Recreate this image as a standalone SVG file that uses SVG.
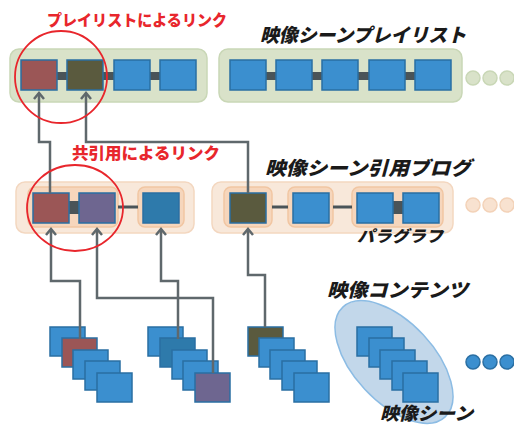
<svg xmlns="http://www.w3.org/2000/svg" width="514" height="426" viewBox="0 0 514 426">
<defs>
<style>
.sq{fill:#3b8fcf;stroke:#2a6fa3;stroke-width:1.5}
.red{fill:#9b5656}
.olive{fill:#5a5a3e}
.purple{fill:#6e6690}
.dblue{fill:#2e7aab}
.bar{fill:#4a5458}
.thin{stroke:#4a5458;stroke-width:3;fill:none}
.grp-g{fill:#d9e2c9;stroke:#c9d7b6;stroke-width:1.5}
.grp-p{fill:#f8e8da;stroke:#f3d7c0;stroke-width:1.5}
.inner{fill:#f6d6bc;stroke:#f1c6a2;stroke-width:1.5}
.conn{fill:none;stroke:#5f686c;stroke-width:2.5}
.ring{fill:none;stroke:#e8262c;stroke-width:1.8}
.title{font-family:"Noto Sans CJK JP",sans-serif;font-weight:900;font-style:italic;fill:#1a1a1a}
.rtxt{font-family:"Noto Sans CJK JP",sans-serif;font-weight:900;fill:#e8262c}
</style>
<marker id="ah" markerUnits="userSpaceOnUse" markerWidth="14" markerHeight="14" refX="0" refY="0" viewBox="-8 -7 10 14" orient="auto">
<path d="M-6,-5 L0,0 L-6,5" fill="none" stroke="#5f686c" stroke-width="2.5"/>
</marker>
</defs>

<g id="playlist-1">
<rect class="grp-g" x="10" y="49" width="197" height="53" rx="9"/>
<rect class="bar" x="56" y="72" width="12" height="8"/>
<rect class="bar" x="102" y="72" width="13" height="8"/>
<rect class="bar" x="148" y="72" width="13" height="8"/>
<rect class="sq red" x="21" y="60" width="36" height="30"/>
<rect class="sq olive" x="67" y="60" width="36" height="30"/>
<rect class="sq" x="114" y="60" width="36" height="30"/>
<rect class="sq" x="160" y="60" width="36" height="30"/>
</g>

<g id="playlist-2">
<rect class="grp-g" x="219" y="49" width="243" height="53" rx="9"/>
<rect class="bar" x="265" y="72" width="12" height="8"/>
<rect class="bar" x="311" y="72" width="12" height="8"/>
<rect class="bar" x="357" y="72" width="13" height="8"/>
<rect class="bar" x="403" y="72" width="13" height="8"/>
<rect class="sq" x="230" y="60" width="36" height="30"/>
<rect class="sq" x="276" y="60" width="36" height="30"/>
<rect class="sq" x="322" y="60" width="36" height="30"/>
<rect class="sq" x="369" y="60" width="36" height="30"/>
<rect class="sq" x="415" y="60" width="36" height="30"/>
</g>

<g id="playlist-more" fill="#d9e2c9" stroke="#c9d7b6" stroke-width="1.5">
<circle cx="473" cy="78" r="7"/>
<circle cx="490" cy="78" r="7"/>
<circle cx="507" cy="78" r="7"/>
</g>

<g id="blog-1">
<rect class="grp-p" x="16" y="182" width="178" height="51" rx="9"/>
<rect class="inner" x="28" y="187" width="90" height="40" rx="7"/>
<rect class="inner" x="138" y="187" width="46" height="40" rx="7"/>
<line class="thin" x1="118" y1="207" x2="138" y2="207"/>
<rect class="bar" x="68" y="201" width="12" height="13"/>
<rect class="sq red" x="33" y="193" width="36" height="30"/>
<rect class="sq purple" x="79" y="193" width="36" height="30"/>
<rect class="sq dblue" x="143" y="193" width="36" height="30"/>
</g>

<g id="blog-2">
<rect class="grp-p" x="212" y="182" width="241" height="51" rx="9"/>
<rect class="inner" x="224" y="187" width="48" height="40" rx="7"/>
<rect class="inner" x="288" y="187" width="45" height="40" rx="7"/>
<rect class="inner" x="352" y="187" width="91" height="40" rx="7"/>
<line class="thin" x1="272" y1="207" x2="288" y2="207"/>
<line class="thin" x1="333" y1="207" x2="352" y2="207"/>
<rect class="bar" x="392" y="201" width="12" height="13"/>
<rect class="sq olive" x="230" y="193" width="36" height="30"/>
<rect class="sq" x="293" y="193" width="36" height="30"/>
<rect class="sq" x="357" y="193" width="36" height="30"/>
<rect class="sq" x="403" y="193" width="36" height="30"/>
</g>

<g id="blog-more" fill="#f8e2d0" stroke="#f3d2b8" stroke-width="1.5">
<circle cx="473" cy="205" r="7"/>
<circle cx="490" cy="205" r="7"/>
<circle cx="507" cy="205" r="7"/>
</g>

<g id="video-1">
<rect class="sq" x="50" y="327" width="35" height="29"/>
<rect class="sq red" x="62" y="338" width="35" height="29"/>
<rect class="sq" x="73" y="350" width="35" height="29"/>
<rect class="sq" x="85" y="361" width="35" height="29"/>
<rect class="sq" x="97" y="373" width="35" height="29"/>
</g>

<g id="video-2">
<rect class="sq" x="148" y="327" width="35" height="29"/>
<rect class="sq dblue" x="160" y="338" width="35" height="29"/>
<rect class="sq" x="172" y="350" width="35" height="29"/>
<rect class="sq" x="183" y="361" width="35" height="29"/>
<rect class="sq purple" x="195" y="373" width="35" height="29"/>
</g>

<g id="video-3">
<rect class="sq olive" x="248" y="327" width="35" height="29"/>
<rect class="sq" x="259" y="338" width="35" height="29"/>
<rect class="sq" x="270" y="350" width="35" height="29"/>
<rect class="sq" x="282" y="361" width="35" height="29"/>
<rect class="sq" x="294" y="373" width="35" height="29"/>
</g>

<g id="video-4">
<ellipse cx="394" cy="362" rx="75" ry="40" transform="rotate(47 394 362)" fill="#c2d7ea" stroke="#8cbce4" stroke-width="1.5"/>
<rect class="sq" x="357" y="327" width="35" height="29"/>
<rect class="sq" x="369" y="338" width="35" height="29"/>
<rect class="sq" x="380" y="350" width="35" height="29"/>
<rect class="sq" x="392" y="361" width="35" height="29"/>
<rect class="sq" x="403" y="373" width="35" height="29"/>
</g>

<g id="video-more" fill="#3b8fcf" stroke="#2a6fa3" stroke-width="1.5">
<circle cx="473" cy="362" r="7"/>
<circle cx="490" cy="362" r="7"/>
<circle cx="507" cy="362" r="7"/>
</g>

<g id="connectors">
<path class="conn" d="M50,193 V142 H39 V93" marker-end="url(#ah)"/>
<path class="conn" d="M248,193 V142 H86 V93" marker-end="url(#ah)"/>
<path class="conn" d="M80,339 V281 H51 V229" marker-end="url(#ah)"/>
<path class="conn" d="M213,373 V298 H97 V229" marker-end="url(#ah)"/>
<path class="conn" d="M178,339 V281 H161 V229" marker-end="url(#ah)"/>
<path class="conn" d="M265,327 V275 H248 V229" marker-end="url(#ah)"/>
</g>

<g id="highlights">
<circle class="ring" cx="61" cy="77" r="46"/>
<ellipse class="ring" cx="75" cy="208" rx="48" ry="43"/>
</g>

<g id="labels">
<text class="rtxt" x="47" y="26" font-size="15.5" textLength="180" lengthAdjust="spacingAndGlyphs">プレイリストによるリンク</text>
<text class="title" x="260" y="42" font-size="19" textLength="206" lengthAdjust="spacingAndGlyphs">映像シーンプレイリスト</text>
<text class="rtxt" x="72" y="159" font-size="16" textLength="148" lengthAdjust="spacingAndGlyphs">共引用によるリンク</text>
<text class="title" x="265" y="175" font-size="19" textLength="206" lengthAdjust="spacingAndGlyphs">映像シーン引用ブログ</text>
<text class="title" x="357" y="242" font-size="16" textLength="86" lengthAdjust="spacingAndGlyphs">パラグラフ</text>
<text class="title" x="327" y="297" font-size="19" textLength="141" lengthAdjust="spacingAndGlyphs">映像コンテンツ</text>
<text class="title" x="380" y="420" font-size="18" textLength="93" lengthAdjust="spacingAndGlyphs">映像シーン</text>
</g>
</svg>
